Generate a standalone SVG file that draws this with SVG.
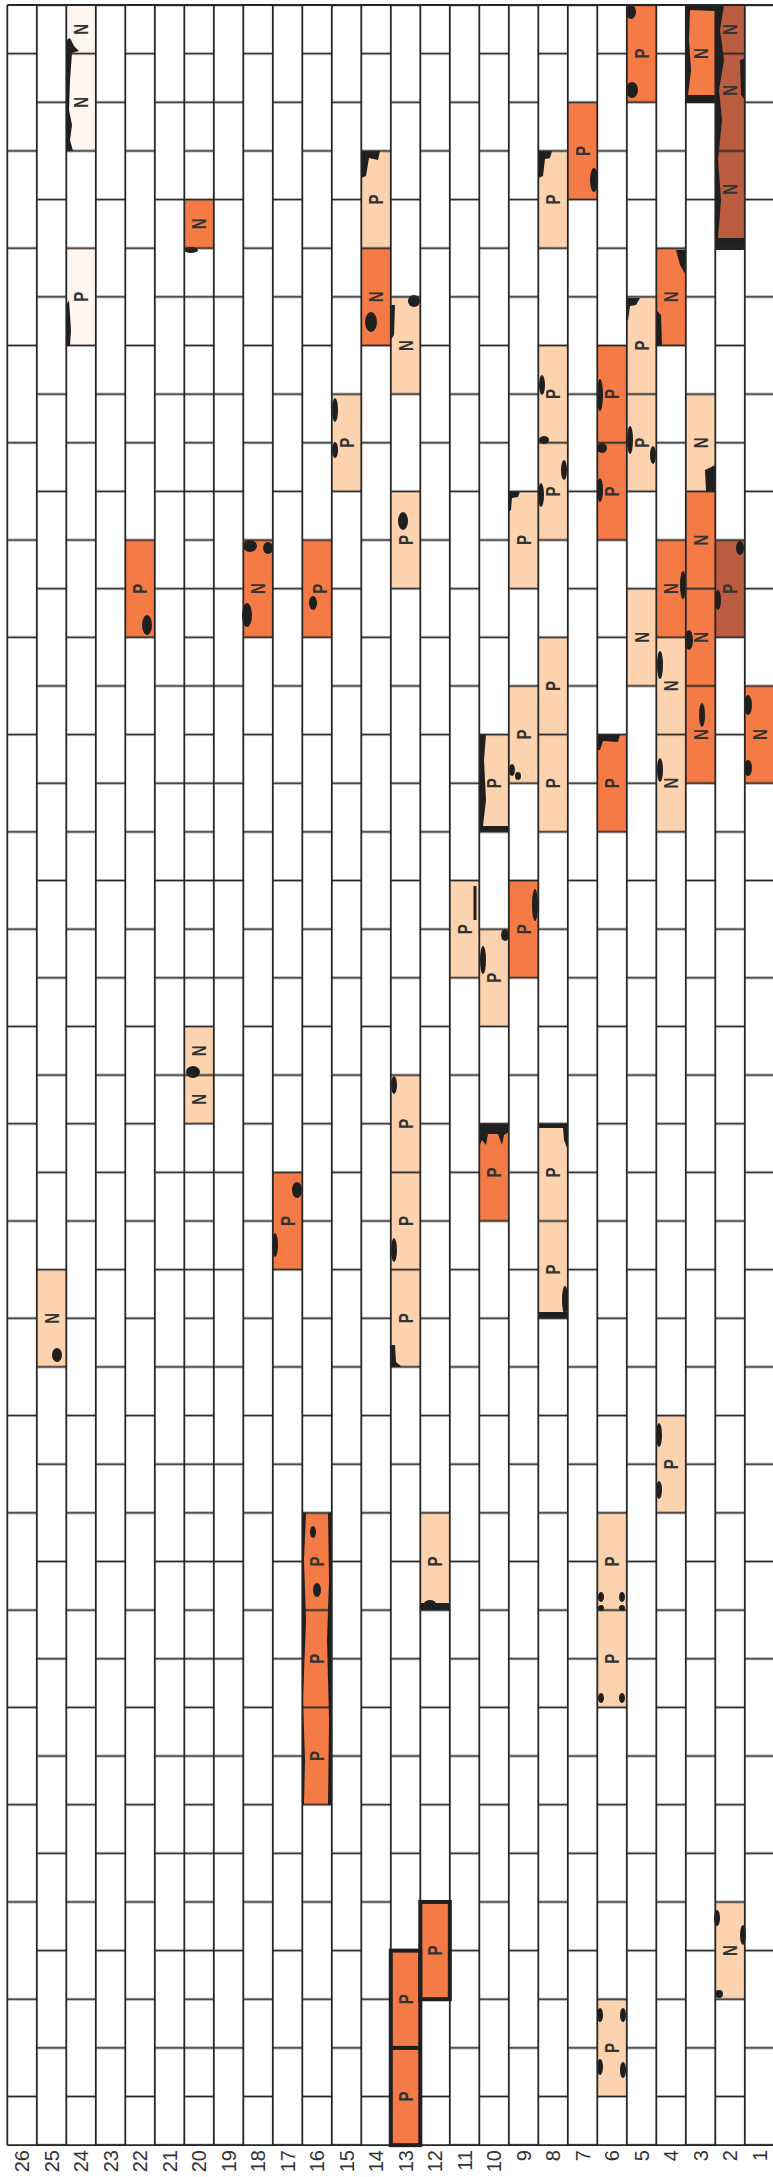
<svg xmlns="http://www.w3.org/2000/svg" width="773" height="2177" viewBox="0 0 773 2177">
<style>
.pe{fill:#FDD3AF}.or{fill:#F47B45}.dk{fill:#B95C3F}.pa{fill:#FDF6F0}
.st{fill:#1f1f1f}
.ol{fill:none;stroke:#1f1f1f;stroke-width:4}
.grid{fill:none;stroke:#262626;stroke-width:1.8}
.l{font-family:"Liberation Sans",Arial,sans-serif;font-weight:bold;font-size:20px;fill:#333;text-anchor:middle}
.n{font-family:"Liberation Sans",Arial,sans-serif;font-size:20px;fill:#333;text-anchor:end}
</style>
<defs>
<pattern id="joints" patternUnits="userSpaceOnUse" x="7.3" y="-19.32" width="59" height="97.28">
<rect x="0" y="72.06" width="29.5" height="1.8" fill="#262626"/>
<rect x="29.5" y="23.42" width="29.5" height="1.8" fill="#262626"/>
</pattern>
<pattern id="half" patternUnits="userSpaceOnUse" x="184.3" y="-19.32" width="29.5" height="97.28">
<rect x="0" y="23.42" width="29.5" height="1.8" fill="#262626"/>
</pattern>
</defs>
<rect width="773" height="2177" fill="#fff"/>

<g id="bricks">
<rect class="pa" x="66.3" y="5" width="29.5" height="48.64"/>
<rect class="pa" x="66.3" y="53.64" width="29.5" height="97.28"/>
<rect class="pa" x="66.3" y="248.2" width="29.5" height="97.28"/>
<rect class="or" x="184.3" y="199.56" width="29.5" height="48.64"/>
<rect class="pe" x="361.3" y="150.92" width="29.5" height="97.28"/>
<rect class="or" x="361.3" y="248.2" width="29.5" height="97.28"/>
<rect class="pe" x="390.8" y="296.84" width="29.5" height="97.28"/>
<rect class="pe" x="390.8" y="491.4" width="29.5" height="97.28"/>
<rect class="pe" x="331.8" y="394.12" width="29.5" height="97.28"/>
<rect class="pe" x="538.3" y="150.92" width="29.5" height="97.28"/>
<rect class="or" x="567.8" y="102.28" width="29.5" height="97.28"/>
<rect class="or" x="626.8" y="5" width="29.5" height="97.28"/>
<rect class="or" x="685.8" y="5" width="29.5" height="97.28"/>
<rect class="dk" x="715.3" y="5" width="29.5" height="243.2"/>
<rect class="or" x="656.3" y="248.2" width="29.5" height="97.28"/>
<rect class="pe" x="626.8" y="296.84" width="29.5" height="194.56"/>
<rect class="or" x="597.3" y="345.48" width="29.5" height="194.56"/>
<rect class="pe" x="538.3" y="345.48" width="29.5" height="194.56"/>
<rect class="pe" x="508.8" y="491.4" width="29.5" height="97.28"/>
<rect class="pe" x="685.8" y="394.12" width="29.5" height="97.28"/>
<rect class="or" x="685.8" y="491.4" width="29.5" height="291.84"/>
<rect class="or" x="125.3" y="540.04" width="29.5" height="97.28"/>
<rect class="or" x="243.3" y="540.04" width="29.5" height="97.28"/>
<rect class="or" x="302.3" y="540.04" width="29.5" height="97.28"/>
<rect class="pe" x="626.8" y="588.68" width="29.5" height="97.28"/>
<rect class="or" x="656.3" y="540.04" width="29.5" height="97.28"/>
<rect class="pe" x="656.3" y="637.32" width="29.5" height="194.56"/>
<rect class="dk" x="715.3" y="540.04" width="29.5" height="97.28"/>
<rect class="or" x="744.8" y="685.96" width="29.5" height="97.28"/>
<rect class="pe" x="479.3" y="734.6" width="29.5" height="97.28"/>
<rect class="pe" x="508.8" y="685.96" width="29.5" height="97.28"/>
<rect class="pe" x="538.3" y="637.32" width="29.5" height="194.56"/>
<rect class="or" x="597.3" y="734.6" width="29.5" height="97.28"/>
<rect class="pe" x="449.8" y="880.52" width="29.5" height="97.28"/>
<rect class="pe" x="479.3" y="929.16" width="29.5" height="97.28"/>
<rect class="or" x="508.8" y="880.52" width="29.5" height="97.28"/>
<rect class="pe" x="184.3" y="1026.44" width="29.5" height="97.28"/>
<rect class="pe" x="390.8" y="1075.08" width="29.5" height="291.84"/>
<rect class="or" x="272.8" y="1172.36" width="29.5" height="97.28"/>
<rect class="or" x="479.3" y="1123.72" width="29.5" height="97.28"/>
<rect class="pe" x="538.3" y="1123.72" width="29.5" height="194.56"/>
<rect class="pe" x="36.8" y="1269.64" width="29.5" height="97.28"/>
<rect class="pe" x="656.3" y="1415.56" width="29.5" height="97.28"/>
<rect class="or" x="302.3" y="1512.84" width="29.5" height="291.84"/>
<rect class="pe" x="420.3" y="1512.84" width="29.5" height="97.28"/>
<rect class="pe" x="597.3" y="1512.84" width="29.5" height="194.56"/>
<rect class="or" x="420.3" y="1901.96" width="29.5" height="97.28"/>
<rect class="or" x="390.8" y="1950.6" width="29.5" height="194.56"/>
<rect class="pe" x="715.3" y="1901.96" width="29.5" height="97.28"/>
<rect class="pe" x="597.3" y="1999.24" width="29.5" height="97.28"/>
</g>

<g id="stains">
<path class="st" d="M66.3,40 L70,38 L74,46 L79,51 L72,53 L70,80 L69,110 L72,125 L70,140 L73,151 L66.3,151 Z"/>
<path class="st" d="M66.3,305 L69,300 L71,330 L70,345 L66.3,345 Z"/>
<path class="st" d="M715.3,5 L724,5 L720,30 L724,60 L719,90 L722,120 L718,160 L721,200 L718,238 L745,238 L745,250 L715.3,250 Z"/>
<path class="st" d="M740,60 L745,58 L745,100 L741,95 Z"/>
<path class="st" d="M685.8,5 L715.3,5 L715.3,11 L690,10 L689,40 L691,70 L688,95 L715.3,95 L715.3,103 L685.8,103 Z"/>
<ellipse class="st" cx="631" cy="12" rx="5" ry="7"/>
<ellipse class="st" cx="632" cy="90" rx="6" ry="8"/>
<ellipse class="st" cx="594" cy="180" rx="4" ry="12"/>
<path class="st" d="M538.3,151 L552,151 L550,158 L545,159 L543,176 L538.3,178 Z"/>
<path class="st" d="M361.3,151 L380,151 L378,160 L369,158 L366,176 L361.3,178 Z"/>
<ellipse class="st" cx="371" cy="322" rx="6" ry="10"/>
<ellipse class="st" cx="414" cy="301" rx="6" ry="6"/>
<path class="st" d="M390.8,305 L395,305 L394,335 L390.8,340 Z"/>
<path class="st" d="M676,250 L685.8,250 L685.8,275 L680,265 Z"/>
<path class="st" d="M656.3,310 L661,315 L662,345 L656.3,345 Z"/>
<path class="st" d="M626.8,298 L640,298 L636,305 L630,306 L628,320 L626.8,320 Z"/>
<ellipse class="st" cx="630" cy="440" rx="3" ry="14"/>
<ellipse class="st" cx="653" cy="455" rx="3" ry="9"/>
<ellipse class="st" cx="600" cy="395" rx="3" ry="16"/>
<ellipse class="st" cx="602" cy="448" rx="5" ry="5"/>
<ellipse class="st" cx="600" cy="490" rx="3" ry="12"/>
<ellipse class="st" cx="542" cy="385" rx="3" ry="10"/>
<ellipse class="st" cx="544" cy="440" rx="5" ry="4"/>
<ellipse class="st" cx="541" cy="495" rx="3" ry="12"/>
<ellipse class="st" cx="564" cy="470" rx="3" ry="10"/>
<path class="st" d="M705,470 L715.3,465 L715.3,491.4 L706,491.4 Z"/>
<ellipse class="st" cx="335" cy="410" rx="3" ry="12"/>
<ellipse class="st" cx="335" cy="450" rx="3" ry="8"/>
<ellipse class="st" cx="403" cy="521" rx="5" ry="9"/>
<path class="st" d="M508.8,491.4 L520,491.4 L518,497 L512,498 L511,510 L508.8,512 Z"/>
<ellipse class="st" cx="147" cy="625" rx="5" ry="10"/>
<ellipse class="st" cx="250" cy="546" rx="7" ry="6"/>
<ellipse class="st" cx="268" cy="548" rx="5" ry="6"/>
<ellipse class="st" cx="247" cy="615" rx="5" ry="12"/>
<ellipse class="st" cx="313" cy="603" rx="4" ry="7"/>
<ellipse class="st" cx="740" cy="548" rx="4" ry="7"/>
<ellipse class="st" cx="718" cy="600" rx="3" ry="10"/>
<ellipse class="st" cx="683" cy="585" rx="3" ry="14"/>
<ellipse class="st" cx="689" cy="640" rx="4" ry="10"/>
<ellipse class="st" cx="660" cy="665" rx="3" ry="14"/>
<ellipse class="st" cx="660" cy="770" rx="3" ry="12"/>
<ellipse class="st" cx="748" cy="705" rx="4" ry="10"/>
<ellipse class="st" cx="748" cy="768" rx="4" ry="8"/>
<ellipse class="st" cx="702" cy="715" rx="3" ry="12"/>
<path class="st" d="M479.3,734.6 L486,734.6 L484,760 L486,800 L483,826 L508.8,826 L508.8,831.9 L479.3,831.9 Z"/>
<path class="st" d="M597.3,734.6 L620,734.6 L618,742 L603,741 L600,750 L597.3,750 Z"/>
<ellipse class="st" cx="512" cy="770" rx="3" ry="6"/>
<ellipse class="st" cx="518" cy="776" rx="3" ry="4"/>
<rect class="st" x="473.5" y="886" width="3" height="34"/>
<ellipse class="st" cx="483" cy="960" rx="3" ry="14"/>
<ellipse class="st" cx="505" cy="935" rx="4" ry="6"/>
<ellipse class="st" cx="535" cy="905" rx="3" ry="16"/>
<ellipse class="st" cx="193" cy="1072" rx="7" ry="6"/>
<ellipse class="st" cx="394" cy="1085" rx="3" ry="9"/>
<ellipse class="st" cx="394" cy="1250" rx="3" ry="12"/>
<path class="st" d="M390.8,1345 L395,1345 L396,1362 L402,1366.9 L390.8,1366.9 Z"/>
<ellipse class="st" cx="297" cy="1190" rx="5" ry="8"/>
<ellipse class="st" cx="275" cy="1245" rx="3" ry="12"/>
<path class="st" d="M479.3,1123.7 L508.8,1123.7 L508.8,1132 L504,1135 L502,1145 L498,1134 L488,1134 L486,1145 L482,1140 L479.3,1146 Z"/>
<path class="st" d="M538.3,1123.7 L567.8,1123.7 L567.8,1150 L564,1140 L563,1128 L538.3,1128 Z"/>
<ellipse class="st" cx="565" cy="1300" rx="3" ry="14"/>
<path class="st" d="M538.3,1312 L567.8,1312 L567.8,1318.3 L538.3,1318.3 Z"/>
<ellipse class="st" cx="57" cy="1355" rx="5" ry="7"/>
<ellipse class="st" cx="659" cy="1435" rx="3" ry="12"/>
<ellipse class="st" cx="659" cy="1490" rx="3" ry="9"/>
<path class="st" d="M302.3,1512.8 L306,1512.8 L304,1560 L306,1620 L303,1700 L305,1760 L304,1804.7 L302.3,1804.7 Z"/>
<path class="st" d="M331.8,1512.8 L328,1512.8 L329,1580 L327,1640 L329,1720 L328,1804.7 L331.8,1804.7 Z"/>
<ellipse class="st" cx="313" cy="1532" rx="3" ry="6"/>
<ellipse class="st" cx="317" cy="1590" rx="4" ry="7"/>
<path class="st" d="M420.3,1603 L449.8,1603 L449.8,1610.1 L420.3,1610.1 Z"/>
<ellipse class="st" cx="430" cy="1604" rx="6" ry="4"/>
<ellipse class="st" cx="601" cy="1597" rx="3" ry="5"/>
<ellipse class="st" cx="622" cy="1597" rx="3" ry="5"/>
<ellipse class="st" cx="601" cy="1608" rx="3" ry="3"/>
<ellipse class="st" cx="622" cy="1608" rx="3" ry="3"/>
<ellipse class="st" cx="601" cy="1698" rx="3" ry="5"/>
<ellipse class="st" cx="622" cy="1698" rx="3" ry="5"/>
<ellipse class="st" cx="717" cy="1918" rx="3" ry="8"/>
<ellipse class="st" cx="743" cy="1935" rx="3" ry="10"/>
<ellipse class="st" cx="719" cy="1994" rx="4" ry="4"/>
<ellipse class="st" cx="600" cy="2015" rx="3" ry="7"/>
<ellipse class="st" cx="623" cy="2015" rx="3" ry="7"/>
<ellipse class="st" cx="600" cy="2067" rx="3" ry="8"/>
<ellipse class="st" cx="623" cy="2070" rx="3" ry="8"/>
<ellipse class="st" cx="191" cy="250" rx="7" ry="3"/>
</g>

<g id="grid">
<rect x="7.3" y="5" width="767" height="2140.2" fill="url(#joints)"/>
<rect x="184.3" y="5" width="29.5" height="2140.2" fill="url(#half)"/>
<path class="grid" d="M7.3,5 H773 M7.3,2145.2 H773 M7.3,5 V2145.2 M36.8,5 V2145.2 M66.3,5 V2145.2 M95.8,5 V2145.2 M125.3,5 V2145.2 M154.8,5 V2145.2 M184.3,5 V2145.2 M213.8,5 V2145.2 M243.3,5 V2145.2 M272.8,5 V2145.2 M302.3,5 V2145.2 M331.8,5 V2145.2 M361.3,5 V2145.2 M390.8,5 V2145.2 M420.3,5 V2145.2 M449.8,5 V2145.2 M479.3,5 V2145.2 M508.8,5 V2145.2 M538.3,5 V2145.2 M567.8,5 V2145.2 M597.3,5 V2145.2 M626.8,5 V2145.2 M656.3,5 V2145.2 M685.8,5 V2145.2 M715.3,5 V2145.2 M744.8,5 V2145.2"/>
<rect class="ol" x="420.3" y="1901.96" width="29.5" height="97.28"/>
<rect class="ol" x="390.8" y="1950.6" width="29.5" height="194.56"/>
<path class="ol" d="M390.8,2047.9 H420.3"/>
</g>

<g id="labels">
<text class="l" transform="translate(81.05,29.3) rotate(-90) scale(0.75,1)" y="7.2">N</text>
<text class="l" transform="translate(81.05,102.3) rotate(-90) scale(0.75,1)" y="7.2">N</text>
<text class="l" transform="translate(81.05,296.8) rotate(-90) scale(0.75,1)" y="7.2">P</text>
<text class="l" transform="translate(199.05,223.9) rotate(-90) scale(0.75,1)" y="7.2">N</text>
<text class="l" transform="translate(376.05,199.6) rotate(-90) scale(0.75,1)" y="7.2">P</text>
<text class="l" transform="translate(376.05,296.8) rotate(-90) scale(0.75,1)" y="7.2">N</text>
<text class="l" transform="translate(405.55,345.5) rotate(-90) scale(0.75,1)" y="7.2">N</text>
<text class="l" transform="translate(405.55,540) rotate(-90) scale(0.75,1)" y="7.2">P</text>
<text class="l" transform="translate(346.55,442.8) rotate(-90) scale(0.75,1)" y="7.2">P</text>
<text class="l" transform="translate(553.05,199.6) rotate(-90) scale(0.75,1)" y="7.2">P</text>
<text class="l" transform="translate(582.55,150.9) rotate(-90) scale(0.75,1)" y="7.2">P</text>
<text class="l" transform="translate(641.55,53.6) rotate(-90) scale(0.75,1)" y="7.2">P</text>
<text class="l" transform="translate(700.55,53.6) rotate(-90) scale(0.75,1)" y="7.2">N</text>
<text class="l" transform="translate(730.05,29.5) rotate(-90) scale(0.75,1)" y="7.2">N</text>
<text class="l" transform="translate(730.05,90.4) rotate(-90) scale(0.75,1)" y="7.2">N</text>
<text class="l" transform="translate(730.05,189.4) rotate(-90) scale(0.75,1)" y="7.2">N</text>
<text class="l" transform="translate(671.05,296.8) rotate(-90) scale(0.75,1)" y="7.2">N</text>
<text class="l" transform="translate(641.55,345.5) rotate(-90) scale(0.75,1)" y="7.2">P</text>
<text class="l" transform="translate(641.55,442.8) rotate(-90) scale(0.75,1)" y="7.2">P</text>
<text class="l" transform="translate(612.05,394.1) rotate(-90) scale(0.75,1)" y="7.2">P</text>
<text class="l" transform="translate(612.05,491.4) rotate(-90) scale(0.75,1)" y="7.2">P</text>
<text class="l" transform="translate(553.05,394.1) rotate(-90) scale(0.75,1)" y="7.2">P</text>
<text class="l" transform="translate(553.05,491.4) rotate(-90) scale(0.75,1)" y="7.2">P</text>
<text class="l" transform="translate(523.55,540) rotate(-90) scale(0.75,1)" y="7.2">P</text>
<text class="l" transform="translate(700.55,442.8) rotate(-90) scale(0.75,1)" y="7.2">N</text>
<text class="l" transform="translate(700.55,540) rotate(-90) scale(0.75,1)" y="7.2">N</text>
<text class="l" transform="translate(700.55,637.3) rotate(-90) scale(0.75,1)" y="7.2">N</text>
<text class="l" transform="translate(700.55,734.6) rotate(-90) scale(0.75,1)" y="7.2">N</text>
<text class="l" transform="translate(140.05,588.7) rotate(-90) scale(0.75,1)" y="7.2">P</text>
<text class="l" transform="translate(258.05,588.7) rotate(-90) scale(0.75,1)" y="7.2">N</text>
<text class="l" transform="translate(320.05,588.7) rotate(-90) scale(0.75,1)" y="7.2">P</text>
<text class="l" transform="translate(641.55,637.3) rotate(-90) scale(0.75,1)" y="7.2">N</text>
<text class="l" transform="translate(671.05,588.7) rotate(-90) scale(0.75,1)" y="7.2">N</text>
<text class="l" transform="translate(671.05,685.96) rotate(-90) scale(0.75,1)" y="7.2">N</text>
<text class="l" transform="translate(671.05,783.2) rotate(-90) scale(0.75,1)" y="7.2">N</text>
<text class="l" transform="translate(730.05,588.7) rotate(-90) scale(0.75,1)" y="7.2">P</text>
<text class="l" transform="translate(759.55,734.6) rotate(-90) scale(0.75,1)" y="7.2">N</text>
<text class="l" transform="translate(494.05,783.2) rotate(-90) scale(0.75,1)" y="7.2">P</text>
<text class="l" transform="translate(523.55,734.6) rotate(-90) scale(0.75,1)" y="7.2">P</text>
<text class="l" transform="translate(553.05,685.96) rotate(-90) scale(0.75,1)" y="7.2">P</text>
<text class="l" transform="translate(553.05,783.2) rotate(-90) scale(0.75,1)" y="7.2">P</text>
<text class="l" transform="translate(612.05,783.2) rotate(-90) scale(0.75,1)" y="7.2">P</text>
<text class="l" transform="translate(464.55,929.2) rotate(-90) scale(0.75,1)" y="7.2">P</text>
<text class="l" transform="translate(494.05,977.8) rotate(-90) scale(0.75,1)" y="7.2">P</text>
<text class="l" transform="translate(523.55,929.2) rotate(-90) scale(0.75,1)" y="7.2">P</text>
<text class="l" transform="translate(199.05,1050.8) rotate(-90) scale(0.75,1)" y="7.2">N</text>
<text class="l" transform="translate(199.05,1099.4) rotate(-90) scale(0.75,1)" y="7.2">N</text>
<text class="l" transform="translate(405.55,1123.7) rotate(-90) scale(0.75,1)" y="7.2">P</text>
<text class="l" transform="translate(405.55,1221) rotate(-90) scale(0.75,1)" y="7.2">P</text>
<text class="l" transform="translate(405.55,1318.3) rotate(-90) scale(0.75,1)" y="7.2">P</text>
<text class="l" transform="translate(287.55,1221) rotate(-90) scale(0.75,1)" y="7.2">P</text>
<text class="l" transform="translate(494.05,1172.4) rotate(-90) scale(0.75,1)" y="7.2">P</text>
<text class="l" transform="translate(553.05,1172.4) rotate(-90) scale(0.75,1)" y="7.2">P</text>
<text class="l" transform="translate(553.05,1269.6) rotate(-90) scale(0.75,1)" y="7.2">P</text>
<text class="l" transform="translate(51.55,1318.3) rotate(-90) scale(0.75,1)" y="7.2">N</text>
<text class="l" transform="translate(671.05,1464.2) rotate(-90) scale(0.75,1)" y="7.2">P</text>
<text class="l" transform="translate(317.05,1561.5) rotate(-90) scale(0.75,1)" y="7.2">P</text>
<text class="l" transform="translate(317.05,1658.8) rotate(-90) scale(0.75,1)" y="7.2">P</text>
<text class="l" transform="translate(317.05,1756) rotate(-90) scale(0.75,1)" y="7.2">P</text>
<text class="l" transform="translate(435.05,1561.5) rotate(-90) scale(0.75,1)" y="7.2">P</text>
<text class="l" transform="translate(612.05,1561.5) rotate(-90) scale(0.75,1)" y="7.2">P</text>
<text class="l" transform="translate(612.05,1658.8) rotate(-90) scale(0.75,1)" y="7.2">P</text>
<text class="l" transform="translate(435.05,1950.6) rotate(-90) scale(0.75,1)" y="7.2">P</text>
<text class="l" transform="translate(405.55,1999.2) rotate(-90) scale(0.75,1)" y="7.2">P</text>
<text class="l" transform="translate(405.55,2096.5) rotate(-90) scale(0.75,1)" y="7.2">P</text>
<text class="l" transform="translate(730.05,1950.6) rotate(-90) scale(0.75,1)" y="7.2">N</text>
<text class="l" transform="translate(612.05,2047.9) rotate(-90) scale(0.75,1)" y="7.2">P</text>
</g>

<g id="axis">
<text class="n" transform="translate(22.05,2150) rotate(-90)" y="7.2">26</text>
<text class="n" transform="translate(51.55,2150) rotate(-90)" y="7.2">25</text>
<text class="n" transform="translate(81.05,2150) rotate(-90)" y="7.2">24</text>
<text class="n" transform="translate(110.55,2150) rotate(-90)" y="7.2">23</text>
<text class="n" transform="translate(140.05,2150) rotate(-90)" y="7.2">22</text>
<text class="n" transform="translate(169.55,2150) rotate(-90)" y="7.2">21</text>
<text class="n" transform="translate(199.05,2150) rotate(-90)" y="7.2">20</text>
<text class="n" transform="translate(228.55,2150) rotate(-90)" y="7.2">19</text>
<text class="n" transform="translate(258.05,2150) rotate(-90)" y="7.2">18</text>
<text class="n" transform="translate(287.55,2150) rotate(-90)" y="7.2">17</text>
<text class="n" transform="translate(317.05,2150) rotate(-90)" y="7.2">16</text>
<text class="n" transform="translate(346.55,2150) rotate(-90)" y="7.2">15</text>
<text class="n" transform="translate(376.05,2150) rotate(-90)" y="7.2">14</text>
<text class="n" transform="translate(405.55,2150) rotate(-90)" y="7.2">13</text>
<text class="n" transform="translate(435.05,2150) rotate(-90)" y="7.2">12</text>
<text class="n" transform="translate(464.55,2150) rotate(-90)" y="7.2">11</text>
<text class="n" transform="translate(494.05,2150) rotate(-90)" y="7.2">10</text>
<text class="n" transform="translate(523.55,2150) rotate(-90)" y="7.2">9</text>
<text class="n" transform="translate(553.05,2150) rotate(-90)" y="7.2">8</text>
<text class="n" transform="translate(582.55,2150) rotate(-90)" y="7.2">7</text>
<text class="n" transform="translate(612.05,2150) rotate(-90)" y="7.2">6</text>
<text class="n" transform="translate(641.55,2150) rotate(-90)" y="7.2">5</text>
<text class="n" transform="translate(671.05,2150) rotate(-90)" y="7.2">4</text>
<text class="n" transform="translate(700.55,2150) rotate(-90)" y="7.2">3</text>
<text class="n" transform="translate(730.05,2150) rotate(-90)" y="7.2">2</text>
<text class="n" transform="translate(759.55,2150) rotate(-90)" y="7.2">1</text>
</g>
</svg>
